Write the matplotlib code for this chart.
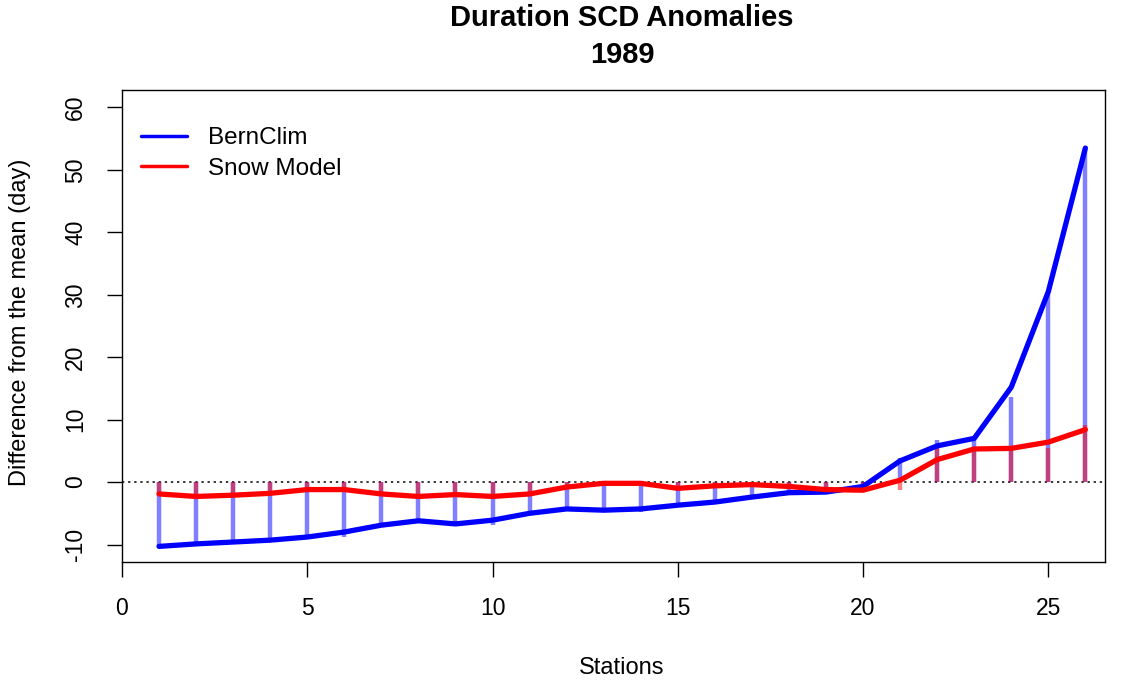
import matplotlib
matplotlib.use("Agg")
import matplotlib.pyplot as plt

plt.rcParams['font.family'] = ['Liberation Sans', 'DejaVu Sans']

stations = list(range(1, 27))

# Smoothed curves (lines)
bernclim_line = [-10.3, -9.9, -9.6, -9.3, -8.8, -8.0, -6.9, -6.2, -6.7, -6.1,
                 -5.0, -4.3, -4.5, -4.3, -3.7, -3.2, -2.4, -1.7, -1.6, -0.7,
                 3.4, 5.8, 7.0, 15.2, 30.5, 53.5]
snow_line = [-1.9, -2.3, -2.1, -1.8, -1.2, -1.2, -1.9, -2.3, -2.0, -2.3,
             -1.9, -0.8, -0.2, -0.2, -1.0, -0.6, -0.4, -0.7, -1.2, -1.3,
             0.3, 3.6, 5.3, 5.4, 6.4, 8.4]

# Station values (vertical stems)
bernclim_stem = [-10.3, -9.8, -9.6, -9.3, -8.4, -8.8, -6.9, -6.6, -6.8, -6.8,
                 -5.1, -4.5, -4.4, -4.8, -3.7, -3.4, -2.4, -1.8, -1.6, -0.6,
                 3.8, 6.8, 6.7, 13.7, 30.1, 53.4]
snow_stem = [-1.9, -2.3, -2.1, -1.8, -1.2, -1.2, -1.9, -2.3, -2.0, -2.3,
             -1.9, -0.8, -0.2, -0.2, -1.0, -0.6, -0.4, -0.7, -1.2, -1.3,
             -1.2, 5.6, 5.6, 5.4, 5.4, 9.1]

x_ticks = [0, 5, 10, 15, 20, 25]
y_ticks = [-10, 0, 10, 20, 30, 40, 50, 60]

title_line1 = "Duration SCD Anomalies"
title_line2 = "1989"
xlabel = "Stations"
ylabel = "Difference from the mean (day)"
series_names = ["BernClim", "Snow Model"]

W, H = 1123, 682
fig = plt.figure(figsize=(W / 100, H / 100), dpi=100)
L, R, T, B = 122, 1105, 90, 562
ax = fig.add_axes([L / W, 1 - B / H, (R - L) / W, (B - T) / H])

ax.vlines(stations, 0, bernclim_stem, colors=(0, 0, 1, 0.5), linewidth=3.2, zorder=2)
ax.vlines(stations, 0, snow_stem, colors=(1, 0, 0, 0.5), linewidth=3.2, zorder=3)
ax.axhline(0, color='black', linestyle=(0, (1.5, 2.5)), linewidth=1.1, zorder=1)
ax.plot(stations, bernclim_line, color=(0, 0, 1), linewidth=3.8, zorder=4,
        solid_capstyle='round', solid_joinstyle='round', label=series_names[0])
ax.plot(stations, snow_line, color=(1, 0, 0), linewidth=3.8, zorder=5,
        solid_capstyle='round', solid_joinstyle='round', label=series_names[1])

ax.set_xlim(0, 26.53)
ax.set_ylim(-12.8, 62.8)
ax.set_xticks(x_ticks)
ax.set_yticks(y_ticks)
ax.set_yticklabels([str(v) for v in y_ticks], rotation=90, va='center')
ax.tick_params(direction='out', length=11, width=1, labelsize=16.5)
ax.tick_params(axis='x', pad=14)
ax.tick_params(axis='y', pad=14)
for s in ax.spines.values():
    s.set_linewidth(1)

fig.text(622 / W, 1 - 18 / H, title_line1, fontsize=21, fontweight='bold',
         ha='center', va='center')
fig.text(622 / W, 1 - 55 / H, title_line2, fontsize=21, fontweight='bold',
         ha='center', va='center')
fig.text(622 / W, 1 - 668 / H, xlabel, fontsize=17, ha='center', va='center')
fig.text(20 / W, 1 - 322 / H, ylabel, fontsize=17, ha='center', va='center',
         rotation=90)

leg = ax.legend(loc='upper left', frameon=False, fontsize=17.5,
                bbox_to_anchor=(141 / W, 1 - 127 / H), bbox_transform=fig.transFigure,
                borderpad=0, borderaxespad=0, handlelength=1.9,
                handletextpad=0.85, labelspacing=0.35)
for h in leg.get_lines():
    h.set_linewidth(2.5)

fig.savefig("out.png", dpi=100)
